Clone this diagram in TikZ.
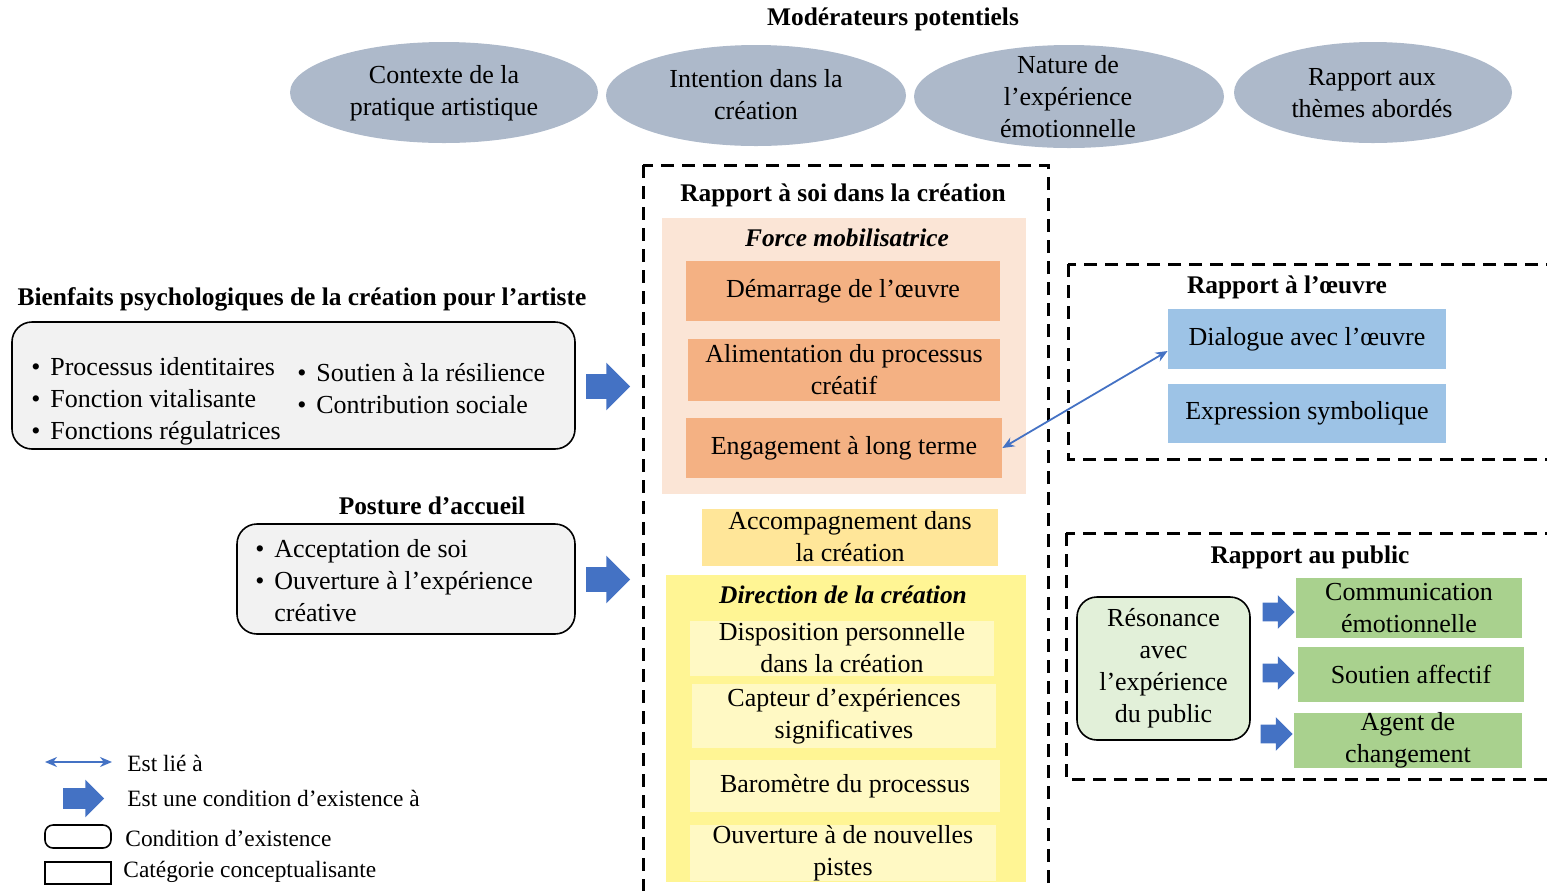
\documentclass[tikz,border=0pt]{standalone}
\usepackage{fontspec}
\setmainfont{Liberation Serif}
\usetikzlibrary{shapes.geometric,shapes.arrows,arrows.meta}

\definecolor{modgray}{HTML}{ADB9CA}
\definecolor{peach}{HTML}{FBE5D6}
\definecolor{orng}{HTML}{F4B183}
\definecolor{gold}{HTML}{FFE699}
\definecolor{dirbg}{HTML}{FFF594}
\definecolor{dirsub}{HTML}{FFF9C4}
\definecolor{skyb}{HTML}{9DC3E6}
\definecolor{grn}{HTML}{A9D18E}
\definecolor{palegrn}{HTML}{E2F0D9}
\definecolor{palegray}{HTML}{F2F2F2}
\definecolor{arrblue}{HTML}{4472C4}

\newcommand{\itm}{\makebox[9.5pt][l]{\textbullet}}

\begin{document}
\begin{tikzpicture}[x=0.5pt,y=-0.5pt,font=\fontsize{13}{16}\selectfont,
	txt/.style={inner sep=0pt,align=center},
	ttl/.style={inner sep=0pt,font=\fontsize{12.7}{16}\selectfont\bfseries},
	ittl/.style={inner sep=0pt,font=\fontsize{12.7}{16}\selectfont\bfseries\itshape},
	modell/.style={ellipse,fill=modgray,inner sep=0pt},
	cbox/.style={inner xsep=2pt,inner ysep=0pt,align=center},
	rbox/.style={draw=black,line width=0.8pt,rounded corners=10pt},
	dashbox/.style={draw=black,line width=1.5pt,dash pattern=on 6.5pt off 4pt},
	linkarr/.style={{Stealth[length=6pt,width=5pt]}-{Stealth[length=6pt,width=5pt]},draw=arrblue,line width=0.9pt},
	bigarr/.style={single arrow,fill=arrblue,inner xsep=0pt,inner ysep=6pt,single arrow head extend=5.75pt,minimum height=22pt},
	smallarr/.style={single arrow,fill=arrblue,inner xsep=0pt,inner ysep=4.5pt,single arrow head extend=3.75pt,minimum height=16pt},
	leg/.style={inner sep=0pt,anchor=west,font=\fontsize{11.7}{14}\selectfont}]
	\useasboundingbox (0,0) rectangle (1547,890);
	\clip (0,0) rectangle (1547,890);
	%Moderators
		\node[ttl] (modtitle) at (893,19) {Modérateurs potentiels};
		\node[modell,minimum width=154pt,minimum height=50.5pt] (ctx) at (444,92.5) {};
		\node[txt] (ctx-t) at (444,93) {Contexte de la\\pratique artistique};
		\node[modell,minimum width=150pt,minimum height=50.5pt] (intent) at (756,95.5) {};
		\node[txt] (intent-t) at (756,95) {Intention dans la\\création};
		\node[modell,minimum width=155pt,minimum height=51.5pt] (nature) at (1069,96.5) {};
		\node[txt] (nature-t) at (1068,97) {Nature de\\l’expérience\\émotionnelle};
		\node[modell,minimum width=139pt,minimum height=50.5pt] (themes) at (1373,92.5) {};
		\node[txt] (themes-t) at (1372,93) {Rapport aux\\thèmes abordés};
	%Rapport a soi
		\draw[dashbox] (643,165) rectangle (1048,920);
		\node[ttl] (soi) at (843,195) {Rapport à soi dans la création};
		%Force mobilisatrice
		\node[fill=peach,minimum width=182pt,minimum height=138pt] (force) at (844,356) {};
		\node[ittl] (force-t) at (847,238) {Force mobilisatrice};
		\node[cbox,fill=orng,minimum width=157pt,minimum height=30pt] (demarrage) at (843,291) {Démarrage de l’œuvre};
		\node[cbox,fill=orng,minimum width=156pt,minimum height=31pt] (aliment) at (844,370) {Alimentation du processus\\créatif};
		\node[cbox,fill=orng,minimum width=158pt,minimum height=30pt] (engage) at (844,448) {Engagement à long terme};
		%Accompagnement
		\node[cbox,fill=gold,minimum width=148pt,minimum height=28.5pt] (accomp) at (850,537) {Accompagnement dans\\la création};
		%Direction de la creation
		\node[fill=dirbg,minimum width=180pt,minimum height=153.5pt] (direction) at (846,728.5) {};
		\node[ittl] (direction-t) at (843,595) {Direction de la création};
		\node[cbox,fill=dirsub,minimum width=152pt,minimum height=27.5pt] (dispo) at (842,648) {Disposition personnelle\\dans la création};
		\node[cbox,fill=dirsub,minimum width=152pt,minimum height=32pt] (capteur) at (844,716) {Capteur d’expériences\\significatives};
		\node[cbox,fill=dirsub,minimum width=155pt,minimum height=26pt] (barometre) at (845,786) {Baromètre du processus};
		\node[cbox,fill=dirsub,minimum width=153pt,minimum height=25pt] (ouverture) at (843,853) {Ouverture à de nouvelles\\pistes};
	%Rapport a l'oeuvre
		\draw[dashbox] (1068,264) rectangle (1570,459);
		\node[ttl] (oeuvre) at (1287,287) {Rapport à l’œuvre};
		\node[cbox,fill=skyb,minimum width=139pt,minimum height=30pt] (dialogue) at (1307,339) {Dialogue avec l’œuvre};
		\node[cbox,fill=skyb,minimum width=139pt,minimum height=29.5pt] (symbol) at (1307,413.5) {Expression symbolique};
		%Link
		\draw[linkarr] (engage.east) -- ([yshift=-6pt]dialogue.west);
	%Rapport au public
		\draw[dashbox] (1066,533) rectangle (1570,779);
		\node[ttl] (public) at (1310,557) {Rapport au public};
		\node[cbox,rbox,fill=palegrn,minimum width=86.5pt,minimum height=71.5pt] (resonance) at (1163.5,668.5) {Résonance\\avec\\l’expérience\\du public};
		\node[cbox,fill=grn,minimum width=113pt,minimum height=30pt] (commu) at (1409,608) {Communication\\émotionnelle};
		\node[cbox,fill=grn,minimum width=113pt,minimum height=27.5pt] (soutien) at (1411,674.5) {Soutien affectif};
		\node[cbox,fill=grn,minimum width=114pt,minimum height=27.5pt] (agent) at (1408,740.5) {Agent de\\changement};
		\node[smallarr] (arr-commu) at (1274,612) {};
		\node[smallarr] (arr-soutien) at (1274,673) {};
		\node[smallarr] (arr-agent) at (1272,734) {};
	%Bienfaits
		\node[ttl] (bienfaits) at (302,299) {Bienfaits psychologiques de la création pour l’artiste};
		\node[rbox,fill=palegray,minimum width=281.5pt,minimum height=63.5pt] (bien-box) at (293.5,385.5) {};
		\node[txt,align=left,anchor=west] (bien-a) at (31,401) {\itm Processus identitaires\\\itm Fonction vitalisante\\\itm Fonctions régulatrices};
		\node[txt,align=left,anchor=west] (bien-b) at (297,389) {\itm Soutien à la résilience\\\itm Contribution sociale};
		\node[bigarr] (arr-bien) at (602,386.5) {};
	%Posture d'accueil
		\node[ttl] (posture) at (432,506) {Posture d’accueil};
		\node[rbox,fill=palegray,minimum width=169pt,minimum height=55pt] (post-box) at (406,579) {};
		\node[txt,align=left,anchor=west] (post-t) at (255,581) {\itm Acceptation de soi\\\itm Ouverture à l’expérience\\\hspace*{9.5pt}créative};
		\node[bigarr] (arr-post) at (602,579.5) {};
	%Legend
		\coordinate (lg-a) at (45,762);
		\coordinate (lg-b) at (112,762);
		\draw[linkarr] (lg-a) -- (lg-b);
		\node[leg] (lg-link) at (127,763) {Est lié à};
		\node[single arrow,fill=arrblue,inner xsep=0pt,inner ysep=5pt,single arrow head extend=4.25pt,minimum height=20.5pt] (lg-arr) at (78.5,798.5) {};
		\node[leg] (lg-cond) at (127,798) {Est une condition d’existence à};
		\node[draw=black,line width=0.8pt,rounded corners=4pt,minimum width=33pt,minimum height=11.5pt] (lg-rbox) at (78,836.5) {};
		\node[leg] (lg-exist) at (125,838) {Condition d’existence};
		\node[draw=black,line width=0.8pt,minimum width=33pt,minimum height=11pt] (lg-box) at (78,873) {};
		\node[leg] (lg-cat) at (123,872) {Catégorie conceptualisante};
\end{tikzpicture}
\end{document}
